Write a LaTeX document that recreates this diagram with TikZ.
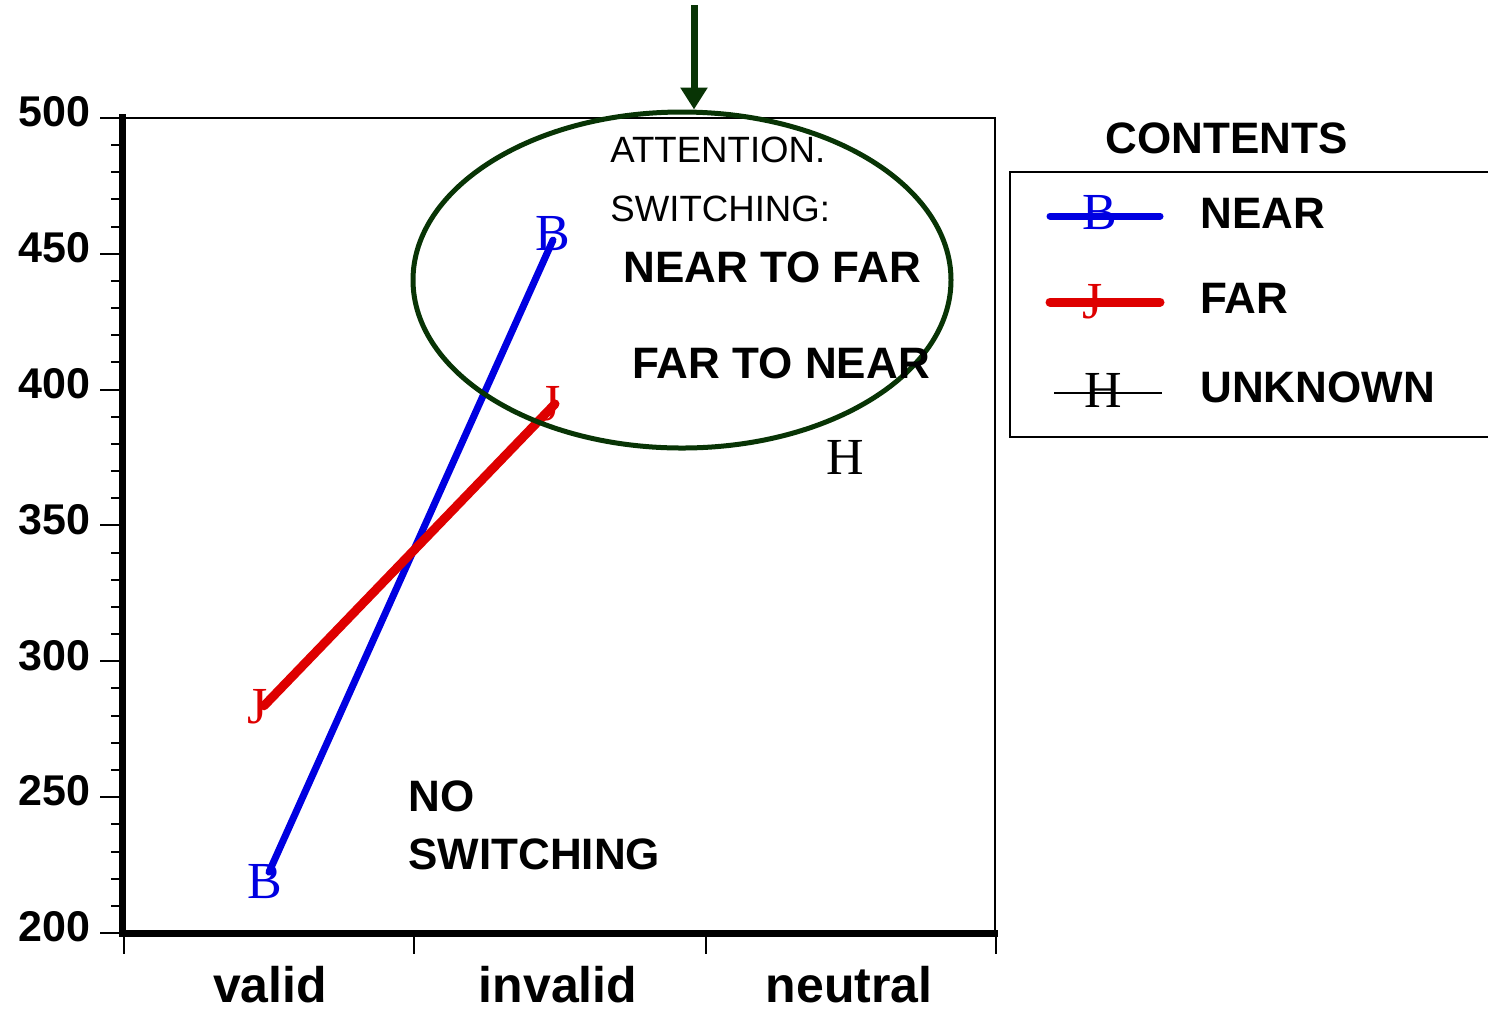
\documentclass[tikz,border=0pt]{standalone}
\usepackage{fontspec}
\setmainfont{Liberation Sans}
\newfontfamily\markfont{Liberation Serif}
\usetikzlibrary{arrows.meta, positioning, shapes.geometric}
\definecolor{nearblue}{RGB}{0,0,225}
\definecolor{farred}{RGB}{222,0,0}
\definecolor{ringgreen}{RGB}{8,52,5}

\begin{document}
\begin{tikzpicture}[
    x=0.5pt, y=-0.5pt,
    font=\bfseries\fontsize{22pt}{26pt}\selectfont,
    num/.style={anchor=east, inner sep=0pt, yshift=3pt,
      font=\bfseries\fontsize{21.5pt}{24pt}\selectfont},
    cat/.style={anchor=base, inner sep=0pt,
      font=\bfseries\fontsize{25pt}{28pt}\selectfont},
    lbl/.style={anchor=west, inner sep=0pt},
    note/.style={anchor=west, inner sep=0pt,
      font=\fontsize{18.3pt}{22pt}\selectfont},
    mk/.style={inner sep=0pt, font=\markfont\fontsize{26pt}{28pt}\selectfont},
    near/.style={draw=nearblue, line width=3.5pt, line cap=round},
    far/.style={draw=farred, line width=4.5pt, line cap=round},
    ring/.style={
      ellipse,
      draw = ringgreen,
      line width = 2.5pt,
      minimum width = 269pt,
      minimum height = 168pt,
      inner sep = 0pt,
    },
    pointer/.style={draw=ringgreen, line width=3.5pt,
      -{Triangle[width=13pt, length=11pt]}},
  ]
  \useasboundingbox (0,0) rectangle (1488,1009);

  % frame and axes
  \draw[line width=1pt] (122,118) -- (995,118) -- (995,935);
  \draw[line width=3.5pt] (122,114) -- (122,933) -- (998,933);
  \foreach \x in {124,414,706,996}
    \draw[line width=1pt] (\x,933) -- (\x,954);
  \node[cat] (valid) at (270,1002) {valid};
  \node[cat] (invalid) at (558,1002) {invalid};
  \node[cat] (neutral) at (849,1002) {neutral};

  % data in ms units
  \begin{scope}[shift={(0,1476.4)}, yscale=-2.717]
    \foreach \v in {200,210,...,500}
      \draw[line width=1pt] (111,\v) -- (122,\v);
    \foreach \v in {200,250,...,500} {
      \draw[line width=1pt] (100,\v) -- (122,\v);
      \node[num] (y\v) at (91,\v) {\v};
    }

    \coordinate (nv) at (269,222.4);
    \coordinate (ni) at (553,455);
    \coordinate (fv) at (264,283.6);
    \coordinate (fi) at (555,394.7);

    \node[mk, text=nearblue] (bv) at (265,218.8) {B};
    \node[mk, text=nearblue] (bi) at (553,457.6) {B};
    \node[mk, text=farred] (jv) at (258,283.2) {J};
    \node[mk, text=farred] (ji) at (551,394.7) {J};
    \node[mk] (hn) at (845,375) {H};

    \draw[near] (nv) -- (ni);
    \draw[far] (fv) -- (fi);
  \end{scope}

  % switching region
  \node[ring] (focus) at (682,280) {};
  \coordinate (drop) at (694,5);
  \draw[pointer] (drop) -- (drop |- focus.north);

  \node[note] (attn) at (610,150) {ATTENTION.};
  \node[note] (swit) at (610,209) {SWITCHING:};
  \node[lbl] (ntf) at (623,267) {NEAR TO FAR};
  \node[lbl] (ftn) at (632,363) {FAR TO NEAR};

  \node[lbl] (nosw) at (408,796) {NO};
  \node[lbl, below = 13pt of nosw.south west, anchor=north west] (nosw2) {SWITCHING};

  % legend
  \node[lbl] (ctitle) at (1105,138) {CONTENTS};
  \draw[line width=1pt] (1500,172) -- (1010,172) -- (1010,437) -- (1500,437);

  \coordinate (ln0) at (1050,216);
  \coordinate (ln1) at (1160,216);
  \coordinate (lf0) at (1050,302);
  \coordinate (lf1) at (1160,302);
  \coordinate (lu0) at (1054,393);
  \coordinate (lu1) at (1162,393);
  \node[mk, text=nearblue] (lb) at (1100,213) {B};
  \node[mk, text=farred] (lj) at (1093,302) {J};
  \node[mk] (lh) at (1103,390) {H};
  \draw[near] (ln0) -- (ln1);
  \draw[far] (lf0) -- (lf1);
  \draw[line width=0.75pt] (lu0) -- (lu1);

  \node[lbl] (lnear) at (1200,213) {NEAR};
  \node[lbl] (lfar) at (1200,298) {FAR};
  \node[lbl] (lunk) at (1200,387) {UNKNOWN};
\end{tikzpicture}
\end{document}
